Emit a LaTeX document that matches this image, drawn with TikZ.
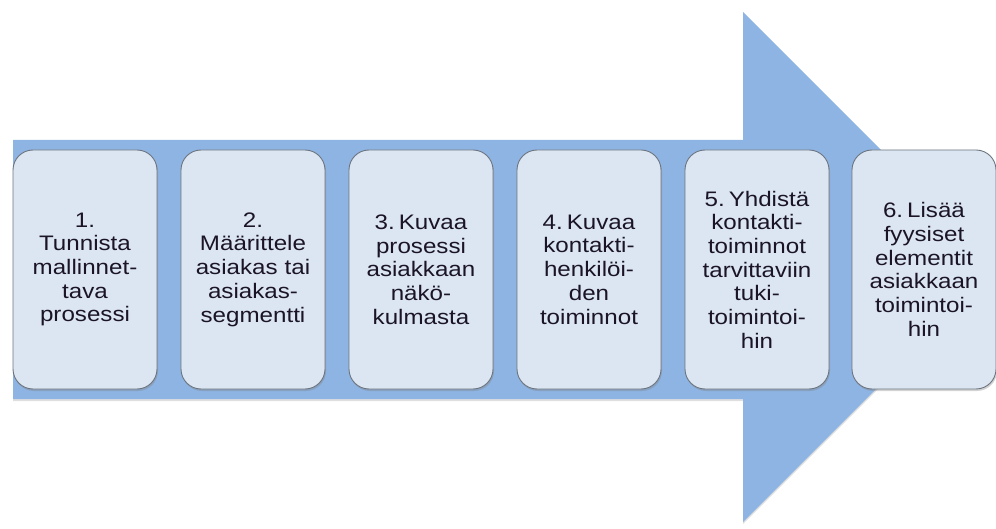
\documentclass[tikz,border=0pt]{standalone}
\usepackage{fontspec}
\setmainfont{Liberation Sans}[FakeStretch=1.15]
\usetikzlibrary{shadows}
\definecolor{arrowblue}{HTML}{8EB4E3}
\definecolor{boxfill}{HTML}{DCE6F2}
\definecolor{boxline}{HTML}{6C757F}
\definecolor{textdark}{HTML}{1A1426}
% narrow gap after a step number
\newcommand{\numgap}{\hspace{4pt}}

\begin{document}
\begin{tikzpicture}[x=1pt,y=-1pt,
  stepbox/.style={draw=boxline, line width=0.9pt, fill=boxfill,
    rounded corners=20pt, minimum width=144pt, minimum height=239pt,
    inner sep=0pt, align=center, text width=140pt, text=textdark,
    font=\fontsize{21}{23.7}\selectfont,
    drop shadow={opacity=0.35, shadow xshift=1pt, shadow yshift=-2pt}},
  bigarrow/.style={fill=arrowblue,
    drop shadow={opacity=0.25, shadow xshift=0pt, shadow yshift=-2pt}}
]
\useasboundingbox (0,0) rectangle (996,529);

% process arrow behind the steps
\path[bigarrow] (13,140) -- (743,140) -- (743,12) -- (998,267)
  -- (743,522) -- (743,399) -- (13,399) -- cycle;

% the six steps
\node[stepbox] (s1) at (85,269.5)  {1.\\Tunnista\\mallinnet-\\tava\\prosessi};
\node[stepbox] (s2) at (253,269.5) {2.\\Määrittele\\asiakas tai\\asiakas-\\segmentti};
\node[stepbox] (s3) at (421,269.5) {3.\numgap Kuvaa\\prosessi\\asiakkaan\\näkö-\\kulmasta};
\node[stepbox] (s4) at (589,269.5) {4.\numgap Kuvaa\\kontakti-\\henkilöi-\\den\\toiminnot};
\node[stepbox] (s5) at (757,269.5) {5.\numgap Yhdistä\\kontakti-\\toiminnot\\tarvittaviin\\tuki-\\toimintoi-\\hin};
\node[stepbox] (s6) at (924,269.5) {6.\numgap Lisää\\fyysiset\\elementit\\asiakkaan\\toimintoi-\\hin};
\end{tikzpicture}
\end{document}
